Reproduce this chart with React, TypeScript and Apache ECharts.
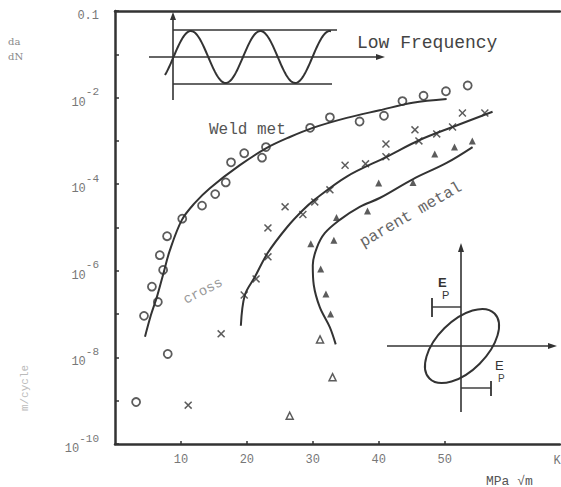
import React, { useEffect, useRef } from "react";
import * as echarts from "echarts";

// ΔK (MPa√m) vs da/dN (m/cycle)
const weldCircles: [number, number][] = [
  [3.2, 9.3e-10], [8.0, 1.2e-8], [4.4, 9.1e-8], [6.5, 1.9e-7], [5.6, 4.3e-7],
  [7.3, 1.05e-6], [6.8, 2.3e-6], [7.9, 6.3e-6], [10.2, 1.6e-5], [13.2, 3.2e-5],
  [15.2, 5.9e-5], [16.8, 1.1e-4], [17.6, 3.2e-4], [19.6, 5.2e-4], [22.3, 4.1e-4],
  [22.9, 7.2e-4], [29.6, 2.0e-3], [32.6, 3.5e-3], [37.1, 2.8e-3], [40.8, 3.8e-3],
  [43.6, 8.3e-3], [46.8, 1.1e-2], [50.2, 1.4e-2], [53.5, 1.9e-2],
];
const weldCurve: [number, number][] = [
  [4.55, 3.0e-8], [5.45, 9.5e-8], [6.36, 2.5e-7], [7.27, 7.9e-7], [8.33, 3.0e-6],
  [10.15, 1.5e-5], [12.12, 3.7e-5], [14.39, 8.1e-5], [18.94, 2.75e-4], [23.03, 6.9e-4],
  [26.52, 1.23e-3], [30.0, 2.0e-3], [35.15, 3.4e-3], [40.15, 5.1e-3], [45.15, 7.6e-3],
  [50.3, 9.3e-3],
];
const crossMarks: [number, number][] = [
  [11.1, 7.9e-10], [16.1, 3.5e-8], [19.6, 2.75e-7], [21.4, 6.5e-7], [23.2, 2.1e-6],
  [23.2, 9.8e-6], [25.8, 3.0e-5], [28.5, 2.0e-5], [30.3, 3.9e-5], [32.6, 7.4e-5],
  [34.9, 2.75e-4], [38.0, 2.95e-4], [41.1, 4.3e-4], [41.1, 8.5e-4], [45.5, 1.8e-3],
  [46.1, 1.0e-3], [48.8, 1.45e-3], [51.2, 2.1e-3], [52.7, 4.4e-3], [56.1, 4.4e-3],
];
const crossCurve: [number, number][] = [
  [19.09, 5.4e-8], [19.7, 2.75e-7], [21.21, 7.2e-7], [23.18, 2.6e-6], [26.06, 1.0e-5],
  [28.48, 2.5e-5], [30.3, 4.4e-5], [35.15, 1.5e-4], [41.21, 4.3e-4], [46.21, 1.05e-3],
  [51.21, 2.1e-3], [57.27, 4.7e-3],
];
const parentFilled: [number, number][] = [
  [33.6, 1.7e-5], [29.7, 4.2e-6], [33.2, 5.1e-6], [31.2, 1.1e-6], [32.0, 2.9e-7],
  [32.7, 1.0e-7], [38.3, 2.4e-5], [40.0, 1.07e-4], [45.2, 1.1e-4], [48.5, 5.0e-4],
  [51.5, 7.2e-4], [54.2, 1.0e-3],
];
const parentOpen: [number, number][] = [
  [31.1, 2.6e-8], [33.0, 3.5e-9], [26.5, 4.5e-10],
];
const parentCurve: [number, number][] = [
  [33.48, 2.0e-8], [32.58, 5.0e-8], [31.06, 1.45e-7], [30.15, 4.7e-7], [30.0, 1.35e-6],
  [30.61, 3.4e-6], [31.82, 7.4e-6], [34.09, 1.5e-5], [37.12, 3.0e-5], [40.15, 4.8e-5],
  [45.15, 1.3e-4], [50.3, 3.1e-4], [54.24, 7.2e-4],
];

const xTickValues = [10, 20, 30, 40, 50];
const yLabelExp = [0, -2, -4, -6, -8, -10];
const yLabelBase = ["0.1", "10", "10", "10", "10", "10"];
const yLabelSup = ["", "-2", "-4", "-6", "-8", "-10"];

const INK = "#333";
const MONO = "'Liberation Mono', 'DejaVu Sans Mono', monospace";

const crossPath =
  "path://M0,1.3L1.3,0L5,3.7L8.7,0L10,1.3L6.3,5L10,8.7L8.7,10L5,6.3L1.3,10L0,8.7L3.7,5Z";

function sinePoints(): number[][] {
  const pts: number[][] = [];
  for (let x = 165; x <= 331; x += 1) {
    pts.push([x, 57 - 26 * Math.sin((2 * Math.PI * (x - 173.5)) / 69.5)]);
  }
  return pts;
}

export default function App() {
  const ref = useRef<HTMLDivElement>(null);
  useEffect(() => {
    if (!ref.current) return;
    const chart = echarts.init(ref.current, undefined, { renderer: "svg" });
    const line = (x1: number, y1: number, x2: number, y2: number, w = 1.6) => ({
      type: "line",
      shape: { x1, y1, x2, y2 },
      style: { stroke: INK, lineWidth: w },
      z: 10,
    });
    const tri = (pts: number[][]) => ({
      type: "polygon",
      shape: { points: pts },
      style: { fill: INK },
      z: 10,
    });
    const txt = (x: number, y: number, text: string, o: any = {}) => ({
      type: "text",
      x,
      y,
      rotation: o.rotation || 0,
      style: {
        text,
        fill: o.fill || "#555",
        font: `${o.weight || "normal"} ${o.size || 12}px ${o.family || MONO}`,
        align: o.align || "left",
        verticalAlign: o.va || "middle",
      },
      z: 10,
    });

    chart.setOption({
      animation: false,
      backgroundColor: "#fff",
      grid: { left: 115, right: 1, top: 11, bottom: 43 },
      xAxis: [
        {
          type: "value",
          min: 0,
          max: 67.5,
          interval: 10,
          axisLine: { show: true, lineStyle: { color: INK, width: 2.5 } },
          axisTick: {
            show: true,
            inside: true,
            length: 3,
            customValues: xTickValues,
            lineStyle: { color: INK, width: 1.5 },
          },
          axisLabel: {
            customValues: xTickValues,
            color: "#777",
            fontFamily: MONO,
            fontSize: 12,
            margin: 10,
          },
          splitLine: { show: false },
        },
        {
          type: "value",
          position: "top",
          min: 0,
          max: 67.5,
          axisLine: { show: true, lineStyle: { color: INK, width: 2.5 } },
          axisTick: { show: false },
          axisLabel: { show: false },
          splitLine: { show: false },
        },
      ],
      yAxis: {
        type: "log",
        logBase: 10,
        min: 1e-10,
        max: 1,
        interval: 1,
        axisLine: { show: true, lineStyle: { color: INK, width: 2.5 } },
        axisTick: { show: true, inside: true, length: 4, lineStyle: { color: INK, width: 1.5 } },
        splitLine: { show: false },
        axisLabel: {
          showMinLabel: true,
          showMaxLabel: true,
          margin: 16,
          color: "#777",
          formatter: (v: number) => {
            const e = Math.round(Math.log10(v));
            const i = yLabelExp.indexOf(e);
            if (i < 0) return "";
            return yLabelSup[i]
              ? `{b|${yLabelBase[i]}}{s|${yLabelSup[i]}}`
              : `{b|${yLabelBase[i]}}`;
          },
          rich: {
            b: { fontSize: 12, fontFamily: MONO, color: "#777", verticalAlign: "bottom", lineHeight: 22 },
            s: { fontSize: 11, fontFamily: MONO, color: "#777", verticalAlign: "top", lineHeight: 22 },
          },
        },
      },
      series: [
        {
          name: "Weld metal fit",
          type: "line",
          data: weldCurve,
          smooth: 0.35,
          showSymbol: false,
          lineStyle: { color: INK, width: 2 },
          silent: true,
        },
        {
          name: "Cross fit",
          type: "line",
          data: crossCurve,
          smooth: 0.35,
          showSymbol: false,
          lineStyle: { color: INK, width: 2 },
          silent: true,
        },
        {
          name: "Parent metal fit",
          type: "line",
          data: parentCurve,
          smooth: 0.35,
          showSymbol: false,
          lineStyle: { color: INK, width: 2 },
          silent: true,
        },
        {
          name: "Weld metal",
          type: "scatter",
          data: weldCircles,
          symbol: "circle",
          symbolSize: 8,
          itemStyle: { color: "rgba(255,255,255,0)", borderColor: INK, borderWidth: 1.8 },
        },
        {
          name: "Cross",
          type: "scatter",
          data: crossMarks,
          symbol: crossPath,
          symbolSize: 8,
          itemStyle: { color: INK },
        },
        {
          name: "Parent metal",
          type: "scatter",
          data: parentFilled,
          symbol: "triangle",
          symbolSize: 7,
          itemStyle: { color: INK },
        },
        {
          name: "Parent metal (open)",
          type: "scatter",
          data: parentOpen,
          symbol: "triangle",
          symbolSize: 7,
          itemStyle: { color: "#fff", borderColor: INK, borderWidth: 1.5 },
        },
      ],
      graphic: [
        // sine inset
        line(173, 100, 173, 18),
        tri([[173, 12], [170, 20], [176, 20]]),
        line(149, 57, 378, 57),
        tri([[385, 57], [376, 54], [376, 60]]),
        line(173, 30, 337, 30),
        line(173, 84, 332, 84),
        {
          type: "polyline",
          shape: { points: sinePoints() },
          style: { stroke: INK, lineWidth: 2, fill: "none" },
          z: 10,
        },
        txt(357, 43, "Low Frequency", { size: 18, fill: "#444" }),
        // ellipse inset
        line(461, 412, 461, 250),
        tri([[461, 243], [458, 252], [464, 252]]),
        line(387, 346, 550, 346),
        tri([[557, 346], [548, 343], [548, 349]]),
        {
          type: "ellipse",
          x: 462,
          y: 346,
          rotation: Math.PI / 4,
          shape: { cx: 0, cy: 0, rx: 46, ry: 25 },
          style: { stroke: INK, lineWidth: 2, fill: "none" },
          z: 10,
        },
        line(432, 307, 461, 307, 1.4),
        line(432, 298, 432, 317, 1.8),
        txt(438, 282, "E", { size: 13, weight: "bold", fill: "#333", family: "'Liberation Sans', sans-serif" }),
        txt(442, 295, "P", { size: 11, fill: "#333", family: "'Liberation Sans', sans-serif" }),
        line(461, 388, 491, 388, 1.4),
        line(491, 381, 491, 396, 1.8),
        txt(495, 365, "E", { size: 13, fill: "#333", family: "'Liberation Sans', sans-serif" }),
        txt(498, 378, "P", { size: 10, fill: "#444", family: "'Liberation Sans', sans-serif" }),
        // curve labels
        txt(209, 130, "Weld met", { size: 16, fill: "#555" }),
        txt(203, 291, "cross", { size: 14, fill: "#999", align: "center", rotation: (27 * Math.PI) / 180 }),
        txt(411, 215, "parent metal", { size: 16, fill: "#666", align: "center", rotation: (30 * Math.PI) / 180 }),
        // axis names
        txt(8, 41, "da", { size: 10, fill: "#888", family: "'DejaVu Serif', serif" }),
        txt(8, 56, "dN", { size: 10, fill: "#888", family: "'DejaVu Serif', serif" }),
        txt(25, 388, "m/cycle", { size: 11, fill: "#bbb", align: "center", rotation: Math.PI / 2 }),
        txt(557, 461, "K", { size: 12, fill: "#777", align: "center" }),
        txt(486, 481, "MPa √m", { size: 13, fill: "#555" }),
      ],
    });
    return () => chart.dispose();
  }, []);
  return (
    <div
      ref={ref}
      style={{ position: "fixed", left: 0, top: 0, width: 561, height: 487, background: "#fff" }}
    />
  );
}
